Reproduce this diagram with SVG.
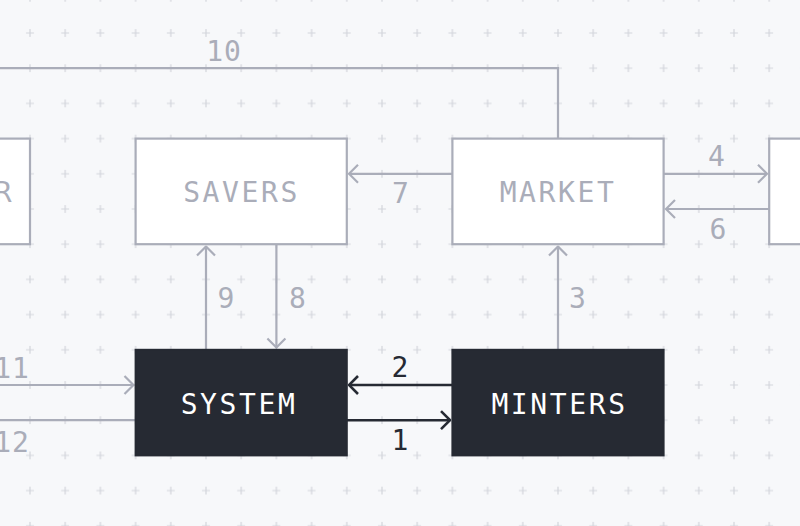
<svg xmlns="http://www.w3.org/2000/svg" width="800" height="526" viewBox="0 0 800 526">
<style>
.bg{fill:#f7f8fa}
.lbox{fill:#ffffff;stroke:#aaadb9;stroke-width:2.2}
.dbox{fill:#262a33;stroke:#262a33;stroke-width:2}
.t{font-family:"DejaVu Sans Mono","Liberation Mono",monospace;font-size:28px;letter-spacing:2.6px;text-anchor:middle}
.tl{fill:#aaadb9}
.td{fill:#ffffff}
.lab{font-family:"DejaVu Sans Mono","Liberation Mono",monospace;font-size:28px;letter-spacing:1px;text-anchor:middle}
.g{fill:none;stroke:#aaadb9;stroke-width:2.2}
.d{fill:none;stroke:#262a33;stroke-width:2.6}
.ga{marker-end:url(#ag)}
.da{marker-end:url(#ad)}
</style>
<defs>
<pattern id="grid" patternUnits="userSpaceOnUse" x="12.4" y="15.4" width="35.2" height="35.2">
<path d="M13.6,17.6 H21.6 M17.6,13.6 V21.6" stroke="#d3d5dc" stroke-width="1.2" fill="none"/>
</pattern>
<marker id="ag" markerUnits="userSpaceOnUse" viewBox="0 0 12 22" refX="11" refY="11" markerWidth="12" markerHeight="22" orient="auto">
<path d="M2,2 L11,11 L2,20" fill="none" stroke="#aaadb9" stroke-width="2.2"/>
</marker>
<marker id="ad" markerUnits="userSpaceOnUse" viewBox="0 0 12 22" refX="11" refY="11" markerWidth="12" markerHeight="22" orient="auto">
<path d="M2,2 L11,11 L2,20" fill="none" stroke="#262a33" stroke-width="2.6"/>
</marker>
</defs>
<rect class="bg" x="0" y="0" width="800" height="526"/>
<rect fill="url(#grid)" x="0" y="0" width="800" height="526"/>

<g id="connectors">
<path id="c10" class="g" d="M0,68.2 H558 V138.6"/>
<path id="c7" class="g ga" d="M452.4,173.8 H349"/>
<path id="c4" class="g ga" d="M663.6,173.8 H767"/>
<path id="c6" class="g ga" d="M769.2,209 H666"/>
<path id="c9" class="g ga" d="M206,349.8 V246.5"/>
<path id="c8" class="g ga" d="M276.4,244.2 V347.5"/>
<path id="c3" class="g ga" d="M558,349.8 V246.5"/>
<path id="c2" class="d da" d="M452.4,385 H349"/>
<path id="c1" class="d da" d="M346.8,420.2 H450"/>
<path id="c11" class="g ga" d="M0,385 H133.5"/>
<path id="c12" class="g" d="M135.6,420.2 H0"/>
<g class="lab tl">
<text x="224" y="61">10</text>
<text x="401" y="203">7</text>
<text x="717" y="165.5">4</text>
<text x="718.5" y="239">6</text>
<text x="226.5" y="308">9</text>
<text x="298" y="308">8</text>
<text x="578" y="308">3</text>
<text x="12" y="378">11</text>
<text x="12" y="452">12</text>
</g>
<g class="lab" fill="#262a33">
<text x="400.5" y="377">2</text>
<text x="400.5" y="450">1</text>
</g>
</g>

<g id="node-left">
<rect class="lbox" x="-10" y="138.6" width="40" height="105.6"/>
<text class="t tl" x="4.5" y="201.7">R</text>
</g>
<g id="node-savers">
<rect class="lbox" x="135.6" y="138.6" width="211.2" height="105.6"/>
<text class="t tl" x="241.5" y="201.7">SAVERS</text>
</g>
<g id="node-market">
<rect class="lbox" x="452.4" y="138.6" width="211.2" height="105.6"/>
<text class="t tl" x="558" y="201.7">MARKET</text>
</g>
<g id="node-right">
<rect class="lbox" x="769.2" y="138.6" width="60" height="105.6"/>
</g>
<g id="node-system">
<rect class="dbox" x="135.6" y="349.8" width="211.2" height="105.6"/>
<text class="t td" x="239" y="414.3">SYSTEM</text>
</g>
<g id="node-minters">
<rect class="dbox" x="452.4" y="349.8" width="211.2" height="105.6"/>
<text class="t td" x="559.5" y="414.3">MINTERS</text>
</g>
</svg>
